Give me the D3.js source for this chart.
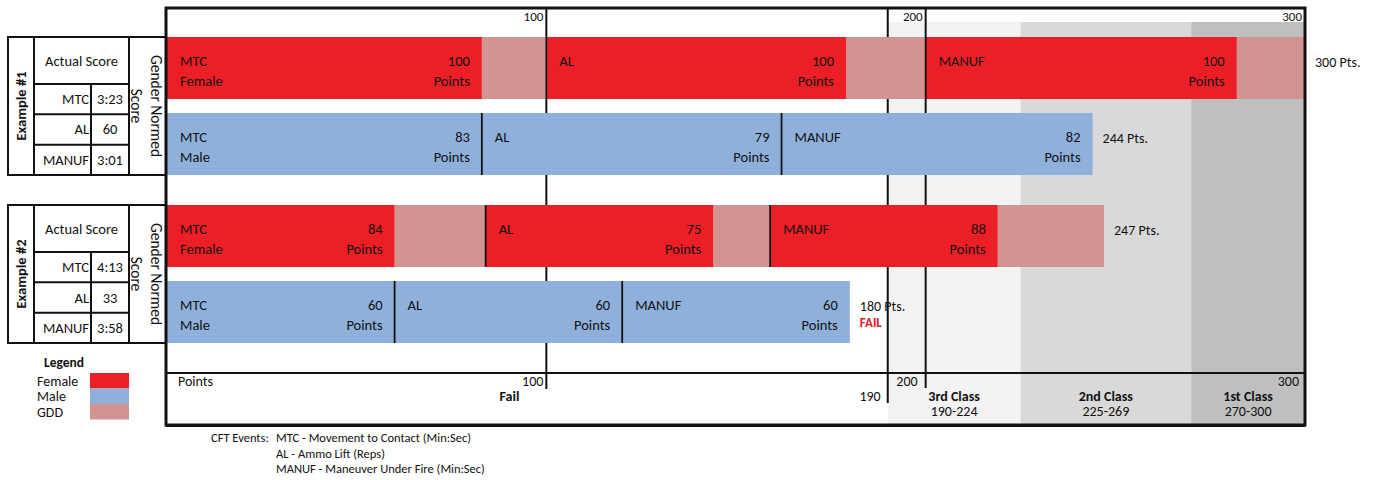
<!DOCTYPE html>
<html>
<head>
<meta charset="utf-8">
<script src="https://cdn.jsdelivr.net/npm/d3@7"></script>
<style>
  body { margin: 0; background: #fff; }
  svg { display: block; }
  text { font-family: Carlito, Calibri, Lato, sans-serif; fill: #111; }
</style>
</head>
<body>
<div id="chart"></div>
<script>
// CFT example scores
const examples = ["Example #1", "Example #2"];
const genders = ["Female", "Male"];
const events = ["MTC", "AL", "MANUF"];
const actualScores = [["3:23", "60", "3:01"], ["4:13", "33", "3:58"]];
const femalePoints = [[100, 100, 100], [84, 75, 88]];
const malePoints = [[83, 79, 82], [60, 60, 60]];
const topTicks = [100, 200, 300];
const failCutoff = 190;
const classNames = ["3rd Class", "2nd Class", "1st Class"];
const classRanges = ["190-224", "225-269", "270-300"];
const classBounds = [[190, 225], [225, 270], [270, 300]];
const legendItems = ["Female", "Male", "GDD"];
const cftNotes = ["MTC - Movement to Contact (Min:Sec)", "AL - Ammo Lift (Reps)", "MANUF - Maneuver Under Fire (Min:Sec)"];

const width = 1379, height = 480;
const colors = {Female: "#ec1f26", Male: "#8fb0da", GDD: "#d29391"};
const classColors = ["#f3f3f3", "#d9d9d9", "#bfbfbf"];

const frameTop = 8, frameBottom = 425, bandTop = 22, axisY = 373;

const x = d3.scaleLinear().domain([0, 300]).range([167, 1305]);
const yGroup = d3.scaleBand().domain(examples).range([37, 343]).paddingInner(0.1786);
const yRow = d3.scaleBand().domain(genders).range([0, yGroup.bandwidth()]).paddingInner(0.184);

const svg = d3.select("#chart").append("svg")
    .attr("width", width)
    .attr("height", height);

// class shading
svg.append("g").selectAll("rect")
    .data(classBounds)
    .join("rect")
    .attr("x", d => x(d[0]))
    .attr("width", d => x(d[1]) - x(d[0]))
    .attr("y", bandTop)
    .attr("height", frameBottom - bandTop)
    .attr("fill", (d, i) => classColors[i]);

// grid lines (behind bars)
const grid = svg.append("g").attr("stroke", "#111").attr("stroke-width", 2);
grid.append("line").attr("x1", x(100)).attr("x2", x(100)).attr("y1", frameTop).attr("y2", 389);
grid.append("line").attr("x1", x(200)).attr("x2", x(200)).attr("y1", frameTop).attr("y2", 388);
grid.append("line").attr("x1", x(failCutoff)).attr("x2", x(failCutoff)).attr("y1", frameTop).attr("y2", 403);

// build segments
const segments = [];
examples.forEach((ex, g) => {
    let fStart = 0, mStart = 0;
    events.forEach((ev, i) => {
        const f = femalePoints[g][i], m = malePoints[g][i];
        segments.push({ex, gender: "Female", ev, i, start: fStart, raw: m, pts: f});
        segments.push({ex, gender: "Male", ev, i, start: mStart, raw: m, pts: m});
        fStart += f;
        mStart += m;
    });
});

const rowY = d => yGroup(d.ex) + yRow(d.gender);
const bh = yRow.bandwidth();

const bars = svg.append("g");
// GDD part (female only)
bars.selectAll("rect.gdd")
    .data(segments.filter(d => d.pts > d.raw))
    .join("rect")
    .attr("class", "gdd")
    .attr("x", d => x(d.start + d.raw))
    .attr("width", d => x(d.pts) - x(d.raw))
    .attr("y", rowY)
    .attr("height", bh)
    .attr("fill", colors.GDD);

bars.selectAll("rect.main")
    .data(segments)
    .join("rect")
    .attr("class", "main")
    .attr("x", d => x(d.start))
    .attr("width", d => x(d.raw) - x(0))
    .attr("y", rowY)
    .attr("height", bh)
    .attr("fill", d => colors[d.gender]);

// dividers between events
bars.selectAll("line")
    .data(segments.filter(d => d.i > 0))
    .join("line")
    .attr("x1", d => x(d.start)).attr("x2", d => x(d.start))
    .attr("y1", rowY).attr("y2", d => rowY(d) + bh)
    .attr("stroke", "#111").attr("stroke-width", 1.8);

// bar texts
const labels = svg.append("g").style("font-size", "14.5px");
labels.selectAll("text.ev")
    .data(segments)
    .join("text")
    .attr("class", "ev")
    .attr("x", d => x(d.start) + 13)
    .attr("y", d => rowY(d) + 29)
    .text(d => d.ev);
labels.selectAll("text.gen")
    .data(segments.filter(d => d.i === 0))
    .join("text")
    .attr("class", "gen")
    .attr("x", d => x(d.start) + 13)
    .attr("y", d => rowY(d) + 49)
    .text(d => d.gender);
labels.selectAll("text.val")
    .data(segments)
    .join("text")
    .attr("class", "val")
    .attr("text-anchor", "end")
    .attr("x", d => x(d.start + d.raw) - 12)
    .attr("y", d => rowY(d) + 29)
    .text(d => d.pts);
labels.selectAll("text.pts")
    .data(segments)
    .join("text")
    .attr("class", "pts")
    .attr("text-anchor", "end")
    .attr("x", d => x(d.start + d.raw) - 12)
    .attr("y", d => rowY(d) + 49)
    .text("Points");

// totals
const totals = [];
examples.forEach((ex, g) => {
    totals.push({ex, gender: "Female", total: d3.sum(femalePoints[g])});
    totals.push({ex, gender: "Male", total: d3.sum(malePoints[g])});
});
labels.selectAll("text.tot")
    .data(totals)
    .join("text")
    .attr("class", "tot")
    .attr("x", d => x(d.total) + 10)
    .attr("y", d => rowY(d) + 30)
    .style("font-size", "14px")
    .text(d => d.total + " Pts.");
labels.selectAll("text.fail")
    .data(totals.filter(d => d.total < failCutoff))
    .join("text")
    .attr("class", "fail")
    .attr("x", d => x(d.total) + 10)
    .attr("y", d => rowY(d) + 46)
    .style("font-size", "13px")
    .style("font-weight", "bold")
    .style("fill", "#e0202a")
    .text("FAIL");

// top tick labels
svg.append("g").style("font-size", "13px")
    .selectAll("text")
    .data(topTicks)
    .join("text")
    .attr("text-anchor", "end")
    .attr("x", d => x(d) - 3)
    .attr("y", 21)
    .text(d => d);

// bottom axis
const bottom = svg.append("g").style("font-size", "14px");
bottom.append("line")
    .attr("x1", x(0)).attr("x2", x(300))
    .attr("y1", axisY).attr("y2", axisY)
    .attr("stroke", "#111").attr("stroke-width", 2);
bottom.append("text").attr("x", x(0) + 11).attr("y", 386).text("Points");
bottom.append("text").attr("text-anchor", "end").attr("x", x(100) - 3).attr("y", 386).text("100");
bottom.append("text").attr("text-anchor", "end").attr("x", x(100) - 27).attr("y", 401)
    .style("font-weight", "bold").text("Fail");
bottom.append("text").attr("text-anchor", "end").attr("x", x(failCutoff) - 7).attr("y", 401).text(failCutoff);
bottom.append("text").attr("text-anchor", "end").attr("x", x(200) - 8).attr("y", 386).text("200");
bottom.append("text").attr("text-anchor", "end").attr("x", x(300) - 6).attr("y", 386).text("300");
bottom.selectAll("text.cls")
    .data(classNames)
    .join("text")
    .attr("class", "cls")
    .attr("text-anchor", "middle")
    .attr("x", (d, i) => x((classBounds[i][0] + classBounds[i][1]) / 2))
    .attr("y", 401)
    .style("font-weight", "bold")
    .text(d => d);
bottom.selectAll("text.rng")
    .data(classRanges)
    .join("text")
    .attr("class", "rng")
    .attr("text-anchor", "middle")
    .attr("x", (d, i) => x((classBounds[i][0] + classBounds[i][1]) / 2))
    .attr("y", 416)
    .text(d => d);

// frame
const frame = svg.append("g").attr("stroke", "#111").attr("fill", "none");
frame.append("rect")
    .attr("x", 166).attr("y", frameTop)
    .attr("width", x(300) - 166).attr("height", frameBottom - frameTop)
    .attr("stroke-width", 3);
frame.append("line").attr("x1", 166).attr("x2", x(300))
    .attr("y1", frameBottom + 1).attr("y2", frameBottom + 1).attr("stroke-width", 2);

// left tables
const colX = [8, 34, 91, 129, 166];
const table = svg.append("g");
examples.forEach((ex, g) => {
    const y0 = yGroup(ex), h = yGroup.bandwidth(), cy = y0 + h / 2;
    const headH = 47, rowH = (h - headH) / events.length;
    const t = table.append("g").attr("stroke", "#111").attr("stroke-width", 2);
    t.append("rect").attr("x", colX[0]).attr("y", y0).attr("width", colX[4] - colX[0]).attr("height", h).attr("fill", "none");
    [colX[1], colX[3]].forEach(cx => t.append("line").attr("x1", cx).attr("x2", cx).attr("y1", y0).attr("y2", y0 + h));
    t.append("line").attr("x1", colX[2]).attr("x2", colX[2]).attr("y1", y0 + headH).attr("y2", y0 + h);
    events.forEach((ev, i) => {
        const ry = y0 + headH + i * rowH;
        t.append("line").attr("x1", colX[1]).attr("x2", colX[3]).attr("y1", ry).attr("y2", ry);
    });
    const tt = table.append("g").style("font-size", "14.5px");
    tt.append("text").attr("text-anchor", "middle").attr("x", (colX[1] + colX[3]) / 2).attr("y", y0 + 29).text("Actual Score");
    events.forEach((ev, i) => {
        const ry = y0 + headH + i * rowH + rowH / 2 + 5;
        tt.append("text").attr("text-anchor", "end").attr("x", colX[2] - 2).attr("y", ry).text(ev);
        tt.append("text").attr("text-anchor", "middle").attr("x", (colX[2] + colX[3]) / 2).attr("y", ry).text(actualScores[g][i]);
    });
    tt.append("text")
        .attr("transform", `translate(${(colX[0] + colX[1]) / 2},${cy}) rotate(-90)`)
        .attr("text-anchor", "middle").attr("dy", "0.35em")
        .style("font-weight", "bold").text(ex);
    const gn = tt.append("text")
        .attr("transform", `translate(${(colX[3] + colX[4]) / 2},${cy}) rotate(90)`)
        .attr("text-anchor", "middle").style("font-size", "15.5px");
    gn.append("tspan").attr("x", 0).attr("y", -9).attr("dy", "0.35em").text("Gender Normed");
    gn.append("tspan").attr("x", 0).attr("y", 11).attr("dy", "0.35em").text("Score");
});

// legend
const legend = svg.append("g").style("font-size", "14px");
legend.append("text").attr("text-anchor", "middle").attr("x", 64).attr("y", 367)
    .style("font-weight", "bold").style("font-size", "13.5px").text("Legend");
legend.selectAll("rect")
    .data(legendItems)
    .join("rect")
    .attr("x", 90).attr("width", 39)
    .attr("y", (d, i) => 373 + i * 15.5).attr("height", 15.5)
    .attr("fill", d => colors[d]);
legend.selectAll("text.item")
    .data(legendItems)
    .join("text")
    .attr("class", "item")
    .attr("x", 37)
    .attr("y", (d, i) => 385.5 + i * 15.5)
    .text(d => d);

// footnote
const note = svg.append("g").style("font-size", "12.5px");
note.append("text").attr("x", 211).attr("y", 442).text("CFT Events:");
note.selectAll("text.n")
    .data(cftNotes)
    .join("text")
    .attr("class", "n")
    .attr("x", 276)
    .attr("y", (d, i) => 442 + i * 15.5)
    .text(d => d);
</script>
</body>
</html>
